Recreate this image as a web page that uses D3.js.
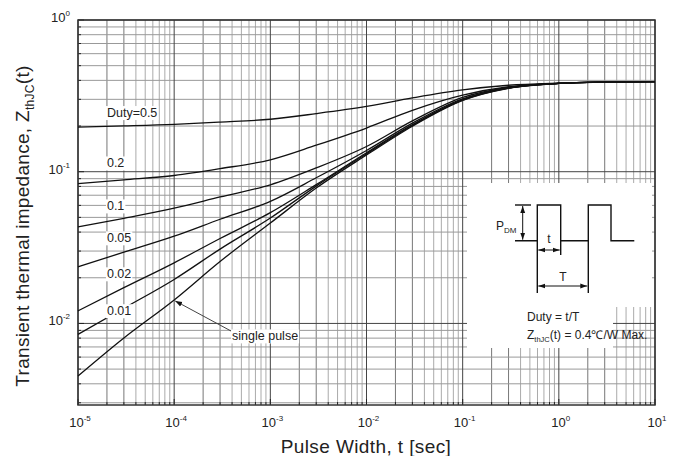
<!DOCTYPE html>
<html>
<head>
<meta charset="utf-8">
<script src="https://cdn.jsdelivr.net/npm/d3@7"></script>
<style>
  body { margin: 0; background: #fff; }
  svg { display: block; font-family: "Liberation Sans", Arial, sans-serif; }
</style>
</head>
<body>
<div id="chart"></div>
<script>
const pulseWidth = [1e-5, 3e-5, 1e-4, 3e-4, 1e-3, 3e-3, 1e-2, 3e-2, 1e-1, 3e-1, 1, 3, 10];

// Zth(t) values for each duty cycle
const duty050 = [0.197, 0.2004, 0.2051, 0.2123, 0.2218, 0.2415, 0.2692, 0.3062, 0.3459, 0.3715, 0.3837, 0.3899, 0.3926];
const duty020 = [0.0834, 0.0883, 0.0944, 0.1047, 0.1199, 0.1496, 0.1941, 0.2541, 0.3199, 0.3631, 0.3828, 0.3899, 0.3926];
const duty010 = [0.0433, 0.0493, 0.0575, 0.0682, 0.0820, 0.1059, 0.1466, 0.2163, 0.3090, 0.3590, 0.3820, 0.3900, 0.3926];
const duty005 = [0.0236, 0.0295, 0.0376, 0.0486, 0.0638, 0.0912, 0.1380, 0.2089, 0.3020, 0.3570, 0.3820, 0.3900, 0.3926];
const duty002 = [0.0121, 0.0172, 0.0251, 0.0363, 0.0537, 0.0822, 0.1334, 0.2042, 0.2985, 0.3565, 0.3820, 0.3900, 0.3926];
const duty001 = [0.00847, 0.0126, 0.0195, 0.0309, 0.0495, 0.0804, 0.1312, 0.2018, 0.2965, 0.3556, 0.3820, 0.3900, 0.3926];
const singlePulse = [0.0045, 0.00802, 0.01429, 0.0256, 0.0459, 0.0780, 0.1288, 0.1995, 0.2951, 0.3548, 0.3820, 0.3900, 0.3926];

const dutyLabels = ["Duty=0.5", "0.2", "0.1", "0.05", "0.02", "0.01"];
const dutyLabelZ = [0.245, 0.114, 0.0594, 0.0366, 0.0212, 0.0121]; // where each label sits
const dutyLabelT = 2e-5;

const xTicks = [1e-5, 1e-4, 1e-3, 1e-2, 1e-1, 1, 10];
const yTicks = [1e-2, 1e-1, 1];

const W = 679, H = 456;
const x = d3.scaleLog().domain([1e-5, 10]).range([78, 655]);
const y = d3.scaleLog().domain([0.0029, 1]).range([405, 20]);

const svg = d3.select("#chart").append("svg")
  .attr("width", W).attr("height", H);

const defs = svg.append("defs");
defs.append("marker")
  .attr("id", "arr")
  .attr("viewBox", "0 0 10 10")
  .attr("refX", 10).attr("refY", 5)
  .attr("markerWidth", 7).attr("markerHeight", 7)
  .attr("markerUnits", "userSpaceOnUse")
  .attr("orient", "auto-start-reverse")
  .append("path").attr("d", "M0,1.5L10,5L0,8.5Z").attr("fill", "#111");

// grid lines
const minorX = [], minorY = [];
for (let e = -5; e < 1; e++) for (let k = 2; k <= 9; k++) minorX.push({ v: k * Math.pow(10, e), k });
for (let e = -3; e < 0; e++) for (let k = 2; k <= 9; k++) {
  const v = k * Math.pow(10, e);
  if (v >= 0.0029) minorY.push({ v, k });
}

const grid = svg.append("g");
grid.selectAll(".vx").data(minorX).enter().append("line")
  .attr("x1", d => x(d.v)).attr("x2", d => x(d.v))
  .attr("y1", y.range()[1]).attr("y2", y.range()[0])
  .attr("stroke", d => d.k <= 3 ? "#777" : "#aaa").attr("stroke-width", 1);
grid.selectAll(".hy").data(minorY).enter().append("line")
  .attr("x1", x.range()[0]).attr("x2", x.range()[1])
  .attr("y1", d => y(d.v)).attr("y2", d => y(d.v))
  .attr("stroke", "#999").attr("stroke-width", 1);
grid.selectAll(".mx").data(xTicks).enter().append("line")
  .attr("x1", d => x(d)).attr("x2", d => x(d))
  .attr("y1", y.range()[1]).attr("y2", y.range()[0])
  .attr("stroke", "#444").attr("stroke-width", 1);
grid.selectAll(".my").data(yTicks).enter().append("line")
  .attr("x1", x.range()[0]).attr("x2", x.range()[1])
  .attr("y1", d => y(d)).attr("y2", d => y(d))
  .attr("stroke", "#444").attr("stroke-width", 1);

// inner ticks
const ticks = svg.append("g").attr("stroke", "#222");
ticks.selectAll(".tx").data(minorX.map(d => d.v).concat(xTicks)).enter().append("line")
  .attr("x1", d => x(d)).attr("x2", d => x(d))
  .attr("y1", y.range()[0]).attr("y2", d => y.range()[0] - (xTicks.includes(d) ? 6 : 3));
ticks.selectAll(".ty").data(minorY.map(d => d.v).concat(yTicks)).enter().append("line")
  .attr("x1", x.range()[0]).attr("x2", d => x.range()[0] + (yTicks.includes(d) ? 6 : 3))
  .attr("y1", d => y(d)).attr("y2", d => y(d));

// white inset box (covers the grid, lower right)
const bx0 = 467, bx1 = 652, by0 = 183, by1 = 348, cx = 613, cy = 307;
svg.append("path")
  .attr("d", `M${bx0},${by0}H${bx1}V${cy}H${cx}V${by1}H${bx0}Z`)
  .attr("fill", "#fff");

// frame
svg.append("rect")
  .attr("x", x.range()[0]).attr("y", y.range()[1])
  .attr("width", x.range()[1] - x.range()[0])
  .attr("height", y.range()[0] - y.range()[1])
  .attr("fill", "none").attr("stroke", "#333").attr("stroke-width", 1.5);

// curves
const series = [duty050, duty020, duty010, duty005, duty002, duty001, singlePulse];
const line = d3.line()
  .x((d, i) => x(pulseWidth[i]))
  .y(d => y(d))
  .curve(d3.curveMonotoneX);
svg.append("g").selectAll("path").data(series).enter().append("path")
  .attr("d", line)
  .attr("fill", "none").attr("stroke", "#111").attr("stroke-width", 1.3);

// duty labels with white backing
const lab = svg.append("g").attr("font-size", 12.5).attr("fill", "#222");
dutyLabels.forEach((t, i) => {
  const g = lab.append("g");
  const txt = g.append("text")
    .attr("x", x(dutyLabelT)).attr("y", y(dutyLabelZ[i]))
    .attr("dy", "0.35em").text(t);
  const b = txt.node().getBBox();
  g.insert("rect", "text")
    .attr("x", b.x - 1).attr("y", b.y).attr("width", b.width + 2).attr("height", b.height)
    .attr("fill", "#fff");
});

// single pulse callout
const spT = 1e-4, spZ = singlePulse[pulseWidth.indexOf(1e-4)];
const spLabT = 4e-4, spLabZ = 0.00826;
svg.append("line")
  .attr("x1", x(spLabT) - 1).attr("y1", y(spLabZ) - 5)
  .attr("x2", x(spT) + 1).attr("y2", y(spZ) + 1)
  .attr("stroke", "#444").attr("stroke-width", 1)
  .attr("marker-end", "url(#arr)");
{
  const g = svg.append("g").attr("font-size", 12.5).attr("fill", "#222");
  const txt = g.append("text").attr("x", x(spLabT)).attr("y", y(spLabZ))
    .attr("dy", "0.35em").text("single pulse");
  const b = txt.node().getBBox();
  g.insert("rect", "text").attr("x", b.x - 1).attr("y", b.y)
    .attr("width", b.width + 2).attr("height", b.height).attr("fill", "#fff");
}

// tick labels
const sup = d => Math.round(Math.log10(d));
const xl = svg.append("g").attr("fill", "#222").attr("text-anchor", "middle");
xTicks.forEach(d => {
  const t = xl.append("text").attr("x", x(d) + 2).attr("y", 427).attr("font-size", 13);
  t.append("tspan").text("10");
  t.append("tspan").attr("dy", -6).attr("font-size", 8).text(sup(d));
});
const yl = svg.append("g").attr("fill", "#222").attr("text-anchor", "end");
yTicks.forEach(d => {
  const t = yl.append("text").attr("x", 70).attr("y", y(d) + 2).attr("font-size", 13);
  t.append("tspan").text("10");
  t.append("tspan").attr("dy", -6).attr("font-size", 8).text(sup(d));
});

// axis titles
svg.append("text")
  .attr("x", 366).attr("y", 453)
  .attr("text-anchor", "middle").attr("font-size", 19).attr("fill", "#222")
  .attr("letter-spacing", 0.4)
  .text("Pulse Width, t [sec]");

const yt = svg.append("text")
  .attr("transform", "translate(29,226) rotate(-90)")
  .attr("text-anchor", "middle").attr("font-size", 19).attr("fill", "#222")
  .attr("letter-spacing", 0.3);
yt.append("tspan").text("Transient thermal impedance, Z");
yt.append("tspan").attr("dy", 5).attr("font-size", 12).text("thJC");
yt.append("tspan").attr("dy", -5).text("(t)");

// inset: pulse train sketch
const ins = svg.append("g").attr("stroke", "#111").attr("stroke-width", 1.4).attr("fill", "none");
const pBase = 240.7, pTop = 205, e1 = 537.3, f1 = 560.7, e2 = 588.3, f2 = 611;
ins.append("path").attr("d",
  `M515,${pBase}H${e1}V${pTop}H${f1}V255M${f1},${pBase}H${e2}V${pTop}H${f2}V${pBase}H634.3`);
ins.append("path").attr("d", `M${e1},${pBase}V293M${e2},${pBase}V293`);
ins.append("path").attr("d", `M515,${pTop}H531`);
ins.append("line").attr("x1", 522.7).attr("x2", 522.7).attr("y1", pTop + 1).attr("y2", pBase - 1)
  .attr("marker-start", "url(#arr)").attr("marker-end", "url(#arr)").attr("stroke-width", 1);
ins.append("line").attr("x1", e1 + 1).attr("x2", f1 - 1).attr("y1", 250).attr("y2", 250)
  .attr("marker-start", "url(#arr)").attr("marker-end", "url(#arr)").attr("stroke-width", 1);
ins.append("line").attr("x1", e1 + 1).attr("x2", e2 - 1).attr("y1", 286).attr("y2", 286)
  .attr("marker-start", "url(#arr)").attr("marker-end", "url(#arr)").attr("stroke-width", 1);

const it = svg.append("g").attr("fill", "#222").attr("font-size", 12);
{
  const p = it.append("text").attr("x", 496).attr("y", 230);
  p.append("tspan").text("P");
  p.append("tspan").attr("dy", 3).attr("font-size", 8).text("DM");
}
it.append("text").attr("x", (e1 + f1) / 2).attr("y", 243).attr("text-anchor", "middle").text("t");
it.append("text").attr("x", (e1 + e2) / 2).attr("y", 281).attr("text-anchor", "middle").text("T");
it.append("text").attr("x", 527).attr("y", 321).attr("font-size", 12).text("Duty = t/T");
{
  const z = it.append("text").attr("x", 527).attr("y", 339).attr("font-size", 12);
  z.append("tspan").text("Z");
  z.append("tspan").attr("dy", 3).attr("font-size", 7.5).text("thJC");
  z.append("tspan").attr("dy", -3).text("(t) = 0.4℃/W Max.");
}
</script>
</body>
</html>
